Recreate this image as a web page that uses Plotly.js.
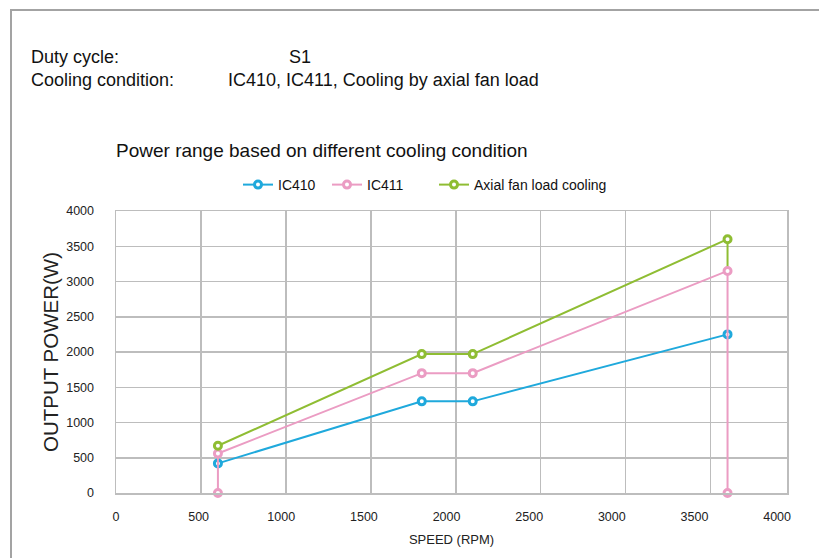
<!DOCTYPE html>
<html>
<head>
<meta charset="utf-8">
<script src="https://cdn.plot.ly/plotly-3.0.1.min.js"></script>
<style>
  html, body { margin: 0; padding: 0; background: #fff; }
  #wrap { position: relative; width: 819px; height: 558px; overflow: hidden; }
  #chart { position: absolute; left: 0; top: 0; width: 819px; height: 558px; }
  #frame { position: absolute; left: 10px; top: 9px; width: 840px; height: 600px;
           border-top: 2px solid #a3a3a3; border-left: 2px solid #a3a3a3; pointer-events: none; }
</style>
</head>
<body>
<div id="wrap">
  <div id="chart"></div>
  <div id="frame"></div>
</div>
<script>
// ---- data ----
const seriesNames = ["IC410", "IC411", "Axial fan load cooling"];
const ic410X = [600, 1800, 2100, 3600];
const ic410Y = [420, 1300, 1300, 2250];
const ic411X = [600, 600, 1800, 2100, 3600, 3600];
const ic411Y = [0, 560, 1700, 1700, 3150, 0];
const axialX = [600, 1800, 2100, 3600];
const axialY = [670, 1970, 1970, 3600];
const xTickVals = [0, 500, 1000, 1500, 2000, 2500, 3000, 3500, 4000];
const yTickVals = [0, 500, 1000, 1500, 2000, 2500, 3000, 3500, 4000];
const headerLabels = ["Duty cycle:", "Cooling condition:"];
const headerValues = ["S1", "IC410, IC411, Cooling by axial fan load"];
const chartTitle = "Power range based on different cooling condition";
const xTitle = "SPEED (RPM)";
const yTitle = "OUTPUT POWER(W)";

// ---- style ----
const COLORS = ["#1fa9dc", "#eb9cc3", "#8fbd33"];
const FONT = "Arial, 'Liberation Sans', sans-serif";
const GRID = "#bdbdbd";
const W = 819, H = 558;
const L = 116, R = 787, T = 211, B = 493;
const px = v => (v - L) / (R - L);
const py = v => (B - v) / (B - T);
const LEGEND_IDS = ["legend", "legend2", "legend3"];
const LEGEND_X = [238, 327, 434];

function series(x, y, i) {
  return {
    type: "scatter", mode: "lines+markers", name: seriesNames[i], legend: LEGEND_IDS[i],
    x: x, y: y,
    line: { color: COLORS[i], width: 2 },
    marker: { symbol: "circle", size: 7, color: "#ffffff", line: { color: COLORS[i], width: 3 } },
    cliponaxis: false
  };
}

const last = axialX.length - 1;
const traces = [
  { type: "scatter", mode: "lines", showlegend: false, hoverinfo: "skip",
    x: [axialX[last], axialX[last]], y: [axialY[last], ic411Y[ic411Y.length - 2]],
    line: { color: COLORS[2], width: 2 }, cliponaxis: false },
  series(ic410X, ic410Y, 0),
  series(ic411X, ic411Y, 1),
  series(axialX, axialY, 2),
  { type: "scatter", x: [], y: [], xaxis: "x2", showlegend: false, hoverinfo: "skip" }
];

const annotations = [];
const rowsY = [57, 80];
const valueX = [287, 226];
headerLabels.forEach((t, i) => {
  annotations.push({ text: t, xref: "paper", yref: "paper", x: px(29), y: py(rowsY[i]),
    xanchor: "left", yanchor: "middle", showarrow: false, font: { family: FONT, size: 18, color: "#111" } });
  annotations.push({ text: headerValues[i], xref: "paper", yref: "paper", x: px(valueX[i]), y: py(rowsY[i]),
    xanchor: "left", yanchor: "middle", showarrow: false, font: { family: FONT, size: 18, color: "#111" } });
});

const layout = {
  width: W, height: H,
  margin: { l: L, r: W - R, t: T, b: H - B, pad: 0 },
  paper_bgcolor: "rgba(0,0,0,0)", plot_bgcolor: "#ffffff",
  font: { family: FONT, color: "#222" },
  showlegend: true,
  title: { text: chartTitle, xref: "paper", x: 0, xanchor: "left",
           yref: "container", y: 1 - 150 / H, yanchor: "middle",
           font: { family: FONT, size: 19, color: "#111" } },
  xaxis: { range: [0, 3950], tickvals: xTickVals.slice(0, 8), showticklabels: false,
           showgrid: true, gridcolor: GRID, gridwidth: 1.5, zeroline: false,
           showline: true, mirror: true, linecolor: GRID, linewidth: 1.5, ticks: "" },
  xaxis2: { overlaying: "x", anchor: "y", side: "bottom", range: [0, 4060], tickvals: xTickVals,
            ticktext: xTickVals.map(String), showgrid: false, zeroline: false, showline: false, ticks: "",
            tickfont: { family: FONT, size: 12.5, color: "#222" }, ticklabelstandoff: 14,
            title: { text: xTitle, font: { family: FONT, size: 13, color: "#222" }, standoff: 12 } },
  yaxis: { range: [0, 4000], tickvals: yTickVals, showgrid: true, gridcolor: GRID, gridwidth: 1.5,
           zeroline: false, showline: true, mirror: true, linecolor: GRID, linewidth: 1.5, ticks: "",
           tickfont: { family: FONT, size: 12.5, color: "#222" }, ticklabelstandoff: 18,
           title: { text: yTitle, font: { family: FONT, size: 20.5, color: "#222" }, standoff: 2 } },
  annotations: annotations
};
LEGEND_IDS.forEach((id, i) => {
  layout[id] = { orientation: "h", x: px(LEGEND_X[i]), xanchor: "left", y: py(185), yanchor: "middle",
                 font: { family: FONT, size: 14, color: "#111" }, bgcolor: "rgba(0,0,0,0)" };
});

Plotly.newPlot("chart", traces, layout, { displayModeBar: false, staticPlot: true });
</script>
</body>
</html>
